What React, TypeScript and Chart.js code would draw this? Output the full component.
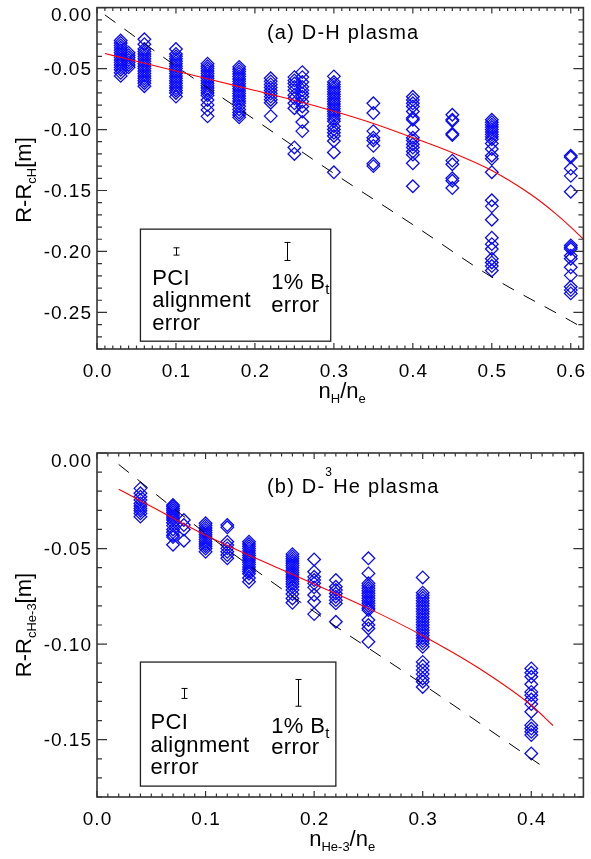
import React, { useEffect, useRef } from "react";
import { Chart, registerables } from "chart.js";

Chart.register(...registerables);

const FONT = "'Liberation Sans', Arial, Helvetica, sans-serif";
const BLUE = "rgb(10,10,255)";
const AXIS = "#333";

// ---------------- Panel (a): D-H plasma ----------------
const xColumnsA = [0.03, 0.04, 0.06, 0.1, 0.14, 0.18, 0.22, 0.25, 0.26, 0.3, 0.35, 0.4, 0.45, 0.5, 0.6];
const yColumnsA: number[][] = [
  [-0.027, -0.029, -0.031, -0.033, -0.035, -0.037, -0.039, -0.041, -0.043, -0.045, -0.047, -0.049, -0.051, -0.0535, -0.056],
  [-0.037, -0.039, -0.041, -0.043, -0.045, -0.047, -0.049],
  [-0.026, -0.03, -0.034, -0.036, -0.038, -0.04, -0.042, -0.044, -0.046, -0.048, -0.05, -0.052, -0.054, -0.056, -0.058, -0.06, -0.062, -0.0645],
  [-0.034, -0.038, -0.04, -0.042, -0.044, -0.046, -0.048, -0.05, -0.052, -0.054, -0.056, -0.058, -0.06, -0.062, -0.064, -0.066, -0.068, -0.07, -0.073],
  [-0.046, -0.048, -0.05, -0.052, -0.054, -0.056, -0.058, -0.06, -0.062, -0.064, -0.066, -0.068, -0.07, -0.072, -0.0758, -0.0798, -0.0839, -0.0892],
  [-0.0486, -0.0505, -0.0525, -0.0545, -0.0565, -0.0585, -0.0605, -0.0625, -0.0645, -0.0665, -0.0685, -0.0705, -0.0725, -0.0745, -0.0765, -0.0785, -0.081, -0.0835, -0.086, -0.088, -0.09],
  [-0.058, -0.0605, -0.063, -0.0655, -0.068, -0.0705, -0.073, -0.0755, -0.078, -0.089],
  [-0.057, -0.0597, -0.0623, -0.065, -0.0677, -0.0718, -0.0744, -0.0785, -0.0825, -0.1147, -0.12],
  [-0.0529, -0.057, -0.061, -0.065, -0.0677, -0.0704, -0.0731, -0.0771, -0.0811, -0.0852, -0.0938, -0.1013],
  [-0.0564, -0.061, -0.063, -0.065, -0.067, -0.069, -0.071, -0.073, -0.075, -0.077, -0.079, -0.081, -0.083, -0.085, -0.087, -0.089, -0.0912, -0.0932, -0.0973, -0.1, -0.1027, -0.1053, -0.1094, -0.1188, -0.1351],
  [-0.0785, -0.0865, -0.1013, -0.1067, -0.109, -0.1134, -0.128, -0.13],
  [-0.0731, -0.0757, -0.0785, -0.0811, -0.0852, -0.0906, -0.092, -0.1, -0.1067, -0.1089, -0.1121, -0.1148, -0.118, -0.1206, -0.1277, -0.1465],
  [-0.0879, -0.0919, -0.093, -0.1035, -0.1045, -0.1255, -0.1285, -0.14, -0.142, -0.148],
  [-0.092, -0.094, -0.096, -0.098, -0.1, -0.102, -0.104, -0.106, -0.108, -0.1115, -0.116, -0.1215, -0.124, -0.135, -0.158, -0.163, -0.174, -0.1887, -0.194, -0.198, -0.206, -0.209, -0.212, -0.2156],
  [-0.1215, -0.1228, -0.132, -0.138, -0.151, -0.195, -0.1965, -0.198, -0.2035, -0.206, -0.213, -0.2196, -0.229, -0.2317, -0.2344],
];
const fitXA = [0.01, 0.05, 0.1, 0.15, 0.2, 0.25, 0.3, 0.35, 0.4, 0.45, 0.5, 0.55, 0.58, 0.6, 0.616];
const fitYA = [-0.0377, -0.044, -0.052, -0.06, -0.068, -0.076, -0.085, -0.095, -0.1067, -0.119, -0.1336, -0.1535, -0.1685, -0.18, -0.19];
const refXA = [0.01, 0.1, 0.2, 0.3, 0.4, 0.5, 0.6, 0.616];
const refYA = [-0.006, -0.048, -0.092, -0.136, -0.178, -0.221, -0.257, -0.263];
const xTicksA = [0, 0.1, 0.2, 0.3, 0.4, 0.5, 0.6];
const xTickLabelsA = ["0.0", "0.1", "0.2", "0.3", "0.4", "0.5", "0.6"];
const yTicksA = [0, -0.05, -0.1, -0.15, -0.2, -0.25];
const yTickLabelsA = ["0.00", "-0.05", "-0.10", "-0.15", "-0.20", "-0.25"];
const errBarsA = [
  { x: 0.1, y: -0.2, err: 0.003 },
  { x: 0.24, y: -0.2, err: 0.0074 },
];
const legendBoxA = { x0: 0.055, x1: 0.296, y0: -0.1817, y1: -0.2736 };

// ---------------- Panel (b): D-3He plasma ----------------
const xColumnsB = [0.04, 0.07, 0.08, 0.1, 0.12, 0.14, 0.18, 0.2, 0.22, 0.25, 0.3, 0.4];
const yColumnsB: number[][] = [
  [-0.0185, -0.0211, -0.0229, -0.0246, -0.0264, -0.0277, -0.029, -0.0302, -0.0316, -0.0333],
  [-0.0272, -0.028, -0.029, -0.03, -0.031, -0.032, -0.033, -0.034, -0.035, -0.0365, -0.038, -0.04, -0.0415, -0.043, -0.044, -0.048],
  [-0.0351, -0.0377, -0.04, -0.0459],
  [-0.0368, -0.038, -0.0392, -0.0404, -0.0416, -0.0428, -0.044, -0.0452, -0.0464, -0.0476, -0.0488, -0.05, -0.0517],
  [-0.0377, -0.0389, -0.0464, -0.0482, -0.0499, -0.0517, -0.0534, -0.0551],
  [-0.0464, -0.0476, -0.0488, -0.05, -0.0512, -0.0524, -0.0536, -0.0548, -0.056, -0.0572, -0.0584, -0.0596, -0.0608, -0.062, -0.0632, -0.0654, -0.0674],
  [-0.0529, -0.0541, -0.0553, -0.0565, -0.0577, -0.0589, -0.0601, -0.0613, -0.0625, -0.0637, -0.0649, -0.0661, -0.0673, -0.0685, -0.07, -0.0717, -0.0738, -0.0761, -0.0784],
  [-0.0557, -0.0621, -0.0648, -0.0665, -0.0682, -0.0703, -0.0743, -0.0778, -0.0843],
  [-0.0665, -0.07, -0.0717, -0.0735, -0.0752, -0.077, -0.0787, -0.0883],
  [-0.0551, -0.063, -0.0682, -0.0695, -0.0708, -0.0721, -0.0734, -0.0747, -0.076, -0.0773, -0.0786, -0.0799, -0.0812, -0.0822, -0.0874, -0.09, -0.0918, -0.0988],
  [-0.0651, -0.0731, -0.0745, -0.0759, -0.0773, -0.0787, -0.0801, -0.0815, -0.0829, -0.0843, -0.0857, -0.0871, -0.0885, -0.0899, -0.0913, -0.0927, -0.0941, -0.0955, -0.0969, -0.0983, -0.0997, -0.1014, -0.1093, -0.1115, -0.1136, -0.1157, -0.118, -0.1197, -0.1224],
  [-0.1127, -0.115, -0.1171, -0.121, -0.125, -0.1267, -0.129, -0.1314, -0.1354, -0.1424, -0.1442, -0.1459, -0.1476, -0.1572],
];
const fitXB = [0.02, 0.05, 0.1, 0.15, 0.2, 0.25, 0.3, 0.35, 0.4, 0.42];
const fitYB = [-0.019, -0.028, -0.043, -0.056, -0.0685, -0.0813, -0.0956, -0.112, -0.132, -0.1426];
const refXB = [0.02, 0.1, 0.2, 0.3, 0.413];
const refYB = [-0.006, -0.042, -0.083, -0.121, -0.165];
const xTicksB = [0, 0.1, 0.2, 0.3, 0.4];
const xTickLabelsB = ["0.0", "0.1", "0.2", "0.3", "0.4"];
const yTicksB = [0, -0.05, -0.1, -0.15];
const yTickLabelsB = ["0.00", "-0.05", "-0.10", "-0.15"];
const errBarsB = [
  { x: 0.08, y: -0.1258, err: 0.0026 },
  { x: 0.1855, y: -0.1255, err: 0.007 },
];
const legendBoxB = { x0: 0.04, x1: 0.22, y0: -0.1094, y1: -0.1743 };

type Seg = { t: string; size: number; dy?: number };
type TextItem = { segs: Seg[]; dx: number; dy: number };

interface PanelSpec {
  xCols: number[];
  yCols: number[][];
  fitX: number[];
  fitY: number[];
  refX: number[];
  refY: number[];
  xMin: number;
  xMax: number;
  yMin: number;
  yMax: number;
  xTicks: number[];
  xTickLabels: string[];
  yTicks: number[];
  yTickLabels: string[];
  errBars: { x: number; y: number; err: number }[];
  box: { x0: number; x1: number; y0: number; y1: number };
  legendTexts: TextItem[];
  title: Seg[];
  titlePos: { x: number; y: number };
  yTitle: Seg[];
  yTitleCenter: number;
  xTitle: Seg[];
  padTop: number;
  xAxisH: number;
}

function spacedWidth(ctx: CanvasRenderingContext2D, text: string, spacing: number) {
  if (spacing === 0) return ctx.measureText(text).width;
  let w = 0;
  for (const ch of text) w += ctx.measureText(ch).width + spacing;
  return w - spacing;
}

function drawSpaced(ctx: CanvasRenderingContext2D, text: string, x: number, y: number, spacing: number) {
  if (spacing === 0) {
    ctx.fillText(text, x, y);
    return;
  }
  let cx = x;
  for (const ch of text) {
    ctx.fillText(ch, cx, y);
    cx += ctx.measureText(ch).width + spacing;
  }
}

function drawRich(ctx: CanvasRenderingContext2D, segs: Seg[], x: number, y: number, align: "left" | "center", spacing = 0) {
  ctx.textAlign = "left";
  ctx.textBaseline = "alphabetic";
  const widths = segs.map((s) => {
    ctx.font = `${s.size}px ${FONT}`;
    return spacedWidth(ctx, s.t, spacing);
  });
  const total = widths.reduce((a, b) => a + b, 0) + spacing * (segs.length - 1);
  let cx = align === "center" ? x - total / 2 : x;
  segs.forEach((s, i) => {
    ctx.font = `${s.size}px ${FONT}`;
    drawSpaced(ctx, s.t, cx, y + (s.dy || 0), spacing);
    cx += widths[i] + spacing;
  });
}

function isMultiple(v: number, step: number) {
  const r = v / step;
  return Math.abs(r - Math.round(r)) < 1e-6;
}

function makeDecor(s: PanelSpec) {
  return {
    id: "decor",
    afterDatasetsDraw(chart: any) {
      const ctx: CanvasRenderingContext2D = chart.ctx;
      const ca = chart.chartArea;
      const xs = chart.scales.x;
      const ys = chart.scales.y;
      ctx.save();
      ctx.fillStyle = "#000";

      ctx.strokeStyle = AXIS;
      ctx.lineWidth = 1.2;
      ctx.beginPath();
      for (const v of s.xTicks) {
        const p = xs.getPixelForValue(v);
        ctx.moveTo(p, ca.bottom);
        ctx.lineTo(p, ca.bottom - 6);
        ctx.moveTo(p, ca.top);
        ctx.lineTo(p, ca.top + 6);
      }
      for (let k = Math.ceil(s.xMin / 0.01 - 1e-6); k * 0.01 <= s.xMax + 1e-9; k++) {
        const v = k * 0.01;
        if (isMultiple(v, 0.1)) continue;
        const p = xs.getPixelForValue(v);
        ctx.moveTo(p, ca.bottom);
        ctx.lineTo(p, ca.bottom - 3.5);
        ctx.moveTo(p, ca.top);
        ctx.lineTo(p, ca.top + 3.5);
      }
      for (const v of s.yTicks) {
        const p = ys.getPixelForValue(v);
        ctx.moveTo(ca.left, p);
        ctx.lineTo(ca.left + 10, p);
        ctx.moveTo(ca.right, p);
        ctx.lineTo(ca.right - 10, p);
      }
      for (let k = Math.ceil(s.yMin / 0.01 - 1e-6); k * 0.01 <= s.yMax + 1e-9; k++) {
        const v = k * 0.01;
        if (isMultiple(v, 0.05)) continue;
        const p = ys.getPixelForValue(v);
        ctx.moveTo(ca.left, p);
        ctx.lineTo(ca.left + 5, p);
        ctx.moveTo(ca.right, p);
        ctx.lineTo(ca.right - 5, p);
      }
      ctx.stroke();

      ctx.lineWidth = 1.6;
      ctx.strokeRect(ca.left, ca.top, ca.right - ca.left, ca.bottom - ca.top);

      ctx.fillStyle = "#000";
      ctx.font = `19px ${FONT}`;
      ctx.textBaseline = "alphabetic";
      ctx.textAlign = "left";
      s.xTicks.forEach((v, i) => {
        const p = xs.getPixelForValue(v);
        const w = spacedWidth(ctx, s.xTickLabels[i], 1);
        drawSpaced(ctx, s.xTickLabels[i], p - w / 2, ca.bottom + 28, 1);
      });
      s.yTicks.forEach((v, i) => {
        let p = ys.getPixelForValue(v);
        p = Math.max(p, ca.top + 7);
        const w = spacedWidth(ctx, s.yTickLabels[i], 1);
        drawSpaced(ctx, s.yTickLabels[i], ca.left - 6 - w, p + 6.8, 1);
      });

      drawRich(ctx, s.title, s.titlePos.x, s.titlePos.y, "left", 1.2);

      drawRich(ctx, s.xTitle, (ca.left + ca.right) / 2 + 2, ca.bottom + 49, "center");
      ctx.save();
      ctx.translate(31, s.yTitleCenter);
      ctx.rotate(-Math.PI / 2);
      drawRich(ctx, s.yTitle, 0, 0, "center");
      ctx.restore();

      const bx0 = xs.getPixelForValue(s.box.x0);
      const bx1 = xs.getPixelForValue(s.box.x1);
      const by0 = ys.getPixelForValue(s.box.y0);
      const by1 = ys.getPixelForValue(s.box.y1);
      ctx.strokeStyle = "#222";
      ctx.lineWidth = 1.3;
      ctx.strokeRect(bx0, by0, bx1 - bx0, by1 - by0);

      ctx.strokeStyle = "#000";
      ctx.lineWidth = 1;
      ctx.beginPath();
      for (const e of s.errBars) {
        const px = Math.round(xs.getPixelForValue(e.x)) + 0.5;
        const pTop = ys.getPixelForValue(e.y + e.err);
        const pBot = ys.getPixelForValue(e.y - e.err);
        ctx.moveTo(px, pTop);
        ctx.lineTo(px, pBot);
        ctx.moveTo(px - 3, pTop);
        ctx.lineTo(px + 3, pTop);
        ctx.moveTo(px - 3, pBot);
        ctx.lineTo(px + 3, pBot);
      }
      ctx.stroke();

      for (const t of s.legendTexts) {
        drawRich(ctx, t.segs, bx0 + t.dx, by0 + t.dy, "left", 0.4);
      }
      ctx.restore();
    },
  };
}

function buildConfig(s: PanelSpec): any {
  const diamonds = s.xCols.flatMap((x, i) => s.yCols[i].map((v) => ({ x, y: v })));
  const fit = s.fitX.map((x, i) => ({ x, y: s.fitY[i] }));
  const ref = s.refX.map((x, i) => ({ x, y: s.refY[i] }));
  return {
    type: "scatter",
    data: {
      datasets: [
        {
          type: "line",
          label: "fit",
          data: fit,
          borderColor: "rgb(255,0,0)",
          borderWidth: 1.1,
          pointRadius: 0,
          cubicInterpolationMode: "monotone",
          fill: false,
        },
        {
          type: "line",
          label: "reference",
          data: ref,
          borderColor: "#000",
          borderWidth: 1,
          borderDash: [13, 11],
          pointRadius: 0,
          cubicInterpolationMode: "monotone",
          fill: false,
        },
        {
          type: "scatter",
          label: "measurements",
          data: diamonds,
          pointStyle: "rectRot",
          pointRadius: 6.3,
          borderColor: BLUE,
          backgroundColor: "rgba(0,0,0,0)",
          borderWidth: 1.3,
          showLine: false,
        },
      ],
    },
    options: {
      responsive: false,
      animation: false,
      events: [],
      layout: { padding: { top: s.padTop, right: 1, left: 0, bottom: 0 } },
      plugins: { legend: { display: false }, tooltip: { enabled: false }, title: { display: false } },
      scales: {
        x: {
          type: "linear",
          min: s.xMin,
          max: s.xMax,
          grid: { display: false, drawTicks: false },
          border: { display: false },
          ticks: { display: false },
          afterFit: (sc: any) => {
            sc.height = s.xAxisH;
            sc.paddingLeft = 0;
            sc.paddingRight = 0;
          },
        },
        y: {
          type: "linear",
          min: s.yMin,
          max: s.yMax,
          grid: { display: false, drawTicks: false },
          border: { display: false },
          ticks: { display: false },
          afterFit: (sc: any) => {
            sc.width = 97;
            sc.paddingTop = 0;
            sc.paddingBottom = 0;
          },
        },
      },
    },
    plugins: [makeDecor(s)],
  };
}

const specA: PanelSpec = {
  xCols: xColumnsA,
  yCols: yColumnsA,
  fitX: fitXA,
  fitY: fitYA,
  refX: refXA,
  refY: refYA,
  xMin: 0,
  xMax: 0.616,
  yMin: -0.28,
  yMax: 0,
  xTicks: xTicksA,
  xTickLabels: xTickLabelsA,
  yTicks: yTicksA,
  yTickLabels: yTickLabelsA,
  errBars: errBarsA,
  box: legendBoxA,
  legendTexts: [
    { segs: [{ t: "PCI", size: 22 }], dx: 11.7, dy: 56 },
    { segs: [{ t: "alignment", size: 22 }], dx: 11.7, dy: 78 },
    { segs: [{ t: "error", size: 22 }], dx: 11.7, dy: 101 },
    { segs: [{ t: "1% B", size: 22 }, { t: "t", size: 15, dy: 5 }], dx: 130.7, dy: 60.3 },
    { segs: [{ t: "error", size: 22 }], dx: 130.7, dy: 83 },
  ],
  title: [{ t: "(a) D-H plasma", size: 20 }],
  titlePos: { x: 267, y: 39 },
  yTitle: [{ t: "R-R", size: 22 }, { t: "cH", size: 13, dy: 5 }, { t: "[m]", size: 22 }],
  yTitleCenter: 180,
  xTitle: [{ t: "n", size: 22 }, { t: "H", size: 13, dy: 5 }, { t: "/n", size: 22 }, { t: "e", size: 13, dy: 5 }],
  padTop: 3,
  xAxisH: 81,
};

const specB: PanelSpec = {
  xCols: xColumnsB,
  yCols: yColumnsB,
  fitX: fitXB,
  fitY: fitYB,
  refX: refXB,
  refY: refYB,
  xMin: 0,
  xMax: 0.448,
  yMin: -0.18,
  yMax: 0,
  xTicks: xTicksB,
  xTickLabels: xTickLabelsB,
  yTicks: yTicksB,
  yTickLabels: yTickLabelsB,
  errBars: errBarsB,
  box: legendBoxB,
  legendTexts: [
    { segs: [{ t: "PCI", size: 22 }], dx: 10, dy: 67 },
    { segs: [{ t: "alignment", size: 22 }], dx: 10, dy: 89.7 },
    { segs: [{ t: "error", size: 22 }], dx: 10, dy: 112 },
    { segs: [{ t: "1% B", size: 22 }, { t: "t", size: 15, dy: 5 }], dx: 130.7, dy: 71 },
    { segs: [{ t: "error", size: 22 }], dx: 130.7, dy: 92 },
  ],
  title: [{ t: "(b) D-", size: 20 }, { t: "3", size: 12, dy: -17 }, { t: "He plasma", size: 20 }],
  titlePos: { x: 267, y: 63.3 },
  yTitle: [{ t: "R-R", size: 22 }, { t: "cHe-3", size: 13, dy: 5 }, { t: "[m]", size: 22 }],
  yTitleCenter: 195,
  xTitle: [{ t: "n", size: 22 }, { t: "He-3", size: 13, dy: 5 }, { t: "/n", size: 22 }, { t: "e", size: 13, dy: 5 }],
  padTop: 23,
  xAxisH: 62,
};

function Panel({ spec, top, height }: { spec: PanelSpec; top: number; height: number }) {
  const ref = useRef<HTMLCanvasElement>(null);
  useEffect(() => {
    const chart = new Chart(ref.current as HTMLCanvasElement, buildConfig(spec));
    return () => chart.destroy();
  }, [spec]);
  return (
    <canvas
      ref={ref}
      width={591}
      height={height}
      style={{ position: "absolute", left: 0, top, width: 591, height, display: "block" }}
    />
  );
}

export default function App() {
  return (
    <div style={{ position: "fixed", left: 0, top: 0, width: 591, height: 859, background: "#fff", overflow: "hidden" }}>
      <Panel spec={specA} top={0} height={430} />
      <Panel spec={specB} top={430} height={429} />
    </div>
  );
}
